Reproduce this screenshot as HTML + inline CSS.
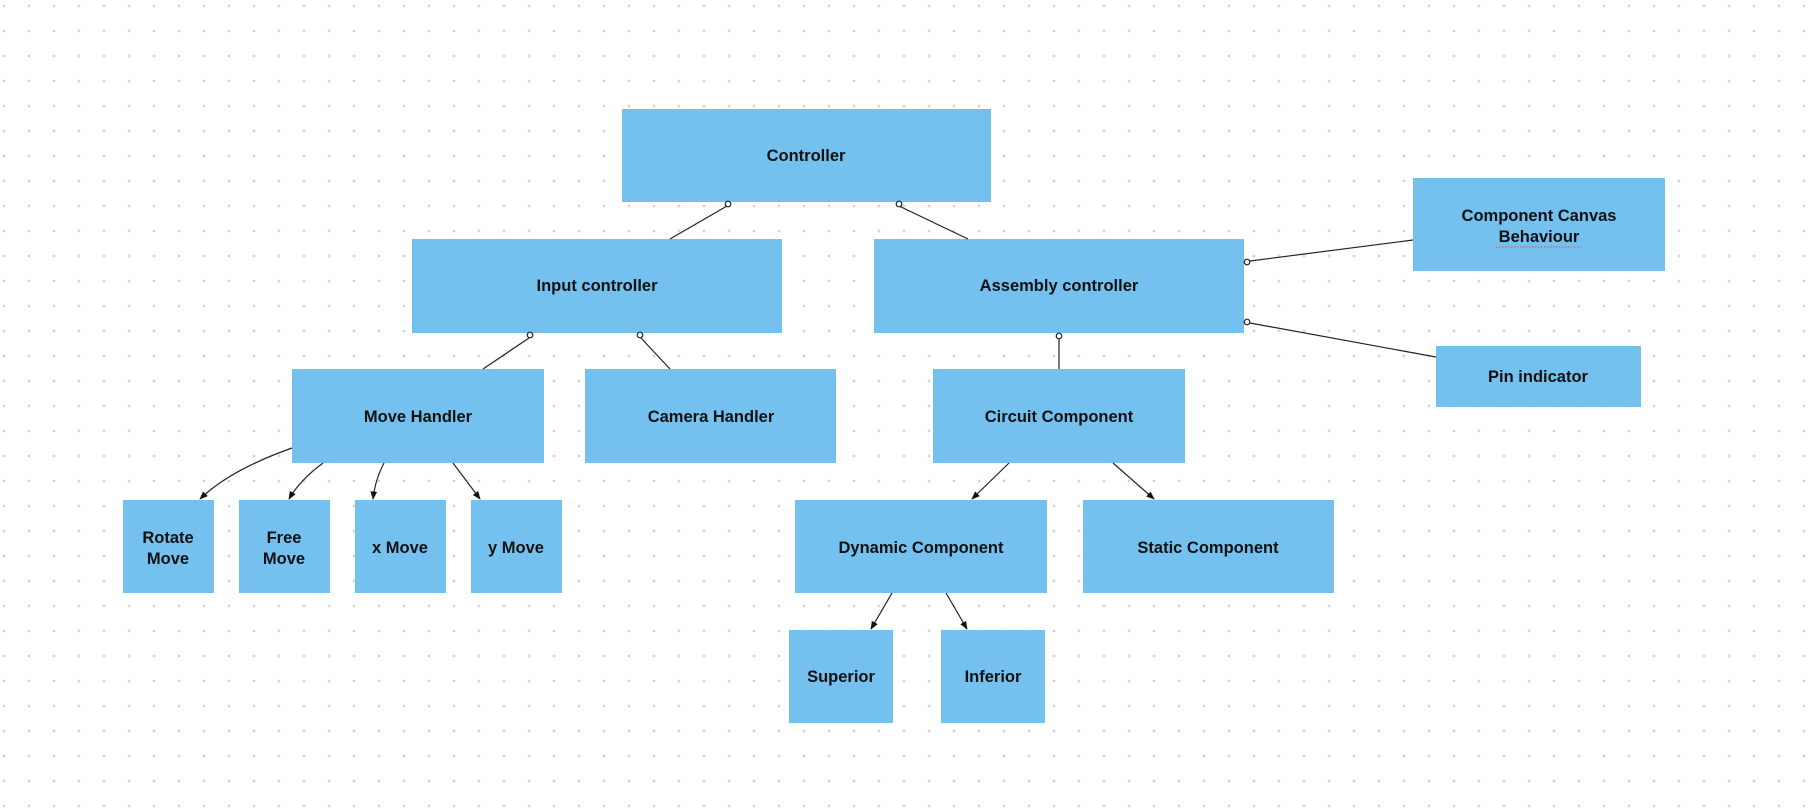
<!DOCTYPE html>
<html><head><meta charset="utf-8"><style>
html,body{margin:0;padding:0;background:#fff;}
svg{display:block}
text{font-family:"Liberation Sans",Arial,sans-serif;font-size:16.5px;font-weight:bold;fill:#111;text-anchor:middle;}
</style></head><body>
<svg width="1812" height="808" viewBox="0 0 1812 808" xmlns="http://www.w3.org/2000/svg">
<defs>
<pattern id="dots" x="0" y="0" width="25" height="25" patternUnits="userSpaceOnUse">
<circle cx="4" cy="6" r="1.4" fill="#d4d4d4"/>
</pattern>
<marker id="ar" viewBox="0 0 10 10" refX="9" refY="5" markerWidth="7" markerHeight="7" orient="auto-start-reverse">
<path d="M0,1 L10,5 L0,9 z" fill="#111"/>
</marker>
</defs>
<rect width="1812" height="808" fill="url(#dots)"/>
<g fill="#74c1ef">
<rect x="622" y="109" width="369" height="93"/>
<rect x="412" y="239" width="370" height="94"/>
<rect x="874" y="239" width="370" height="94"/>
<rect x="1413" y="178" width="252" height="93"/>
<rect x="1436" y="346" width="205" height="61"/>
<rect x="292" y="369" width="252" height="94"/>
<rect x="585" y="369" width="251" height="94"/>
<rect x="933" y="369" width="252" height="94"/>
<rect x="795" y="500" width="252" height="93"/>
<rect x="1083" y="500" width="251" height="93"/>
<rect x="123" y="500" width="91" height="93"/>
<rect x="239" y="500" width="91" height="93"/>
<rect x="355" y="500" width="91" height="93"/>
<rect x="471" y="500" width="91" height="93"/>
<rect x="789" y="630" width="104" height="93"/>
<rect x="941" y="630" width="104" height="93"/>
</g>
<g stroke="#222" stroke-width="1.2" fill="none">
<line x1="727" y1="206" x2="670" y2="239"/>
<line x1="899" y1="206" x2="968" y2="239"/>
<line x1="1250" y1="261" x2="1413" y2="240"/>
<line x1="1250" y1="323" x2="1436" y2="357"/>
<line x1="1059" y1="339" x2="1059" y2="369"/>
<line x1="529" y1="338" x2="483" y2="369"/>
<line x1="641" y1="338" x2="670" y2="369"/>
<path d="M292,448 Q230,470 200,499" marker-end="url(#ar)"/>
<path d="M323,463 Q300,480 289,499" marker-end="url(#ar)"/>
<path d="M384,463 Q375,480 373,499" marker-end="url(#ar)"/>
<path d="M453,463 L480,499" marker-end="url(#ar)"/>
<path d="M1009,463 L972,499" marker-end="url(#ar)"/>
<path d="M1113,463 L1154,499" marker-end="url(#ar)"/>
<path d="M892,593 L871,629" marker-end="url(#ar)"/>
<path d="M946,593 L967,629" marker-end="url(#ar)"/>
</g>
<g stroke="#222" stroke-width="1.2" fill="#fff">
<circle cx="728" cy="204" r="2.8"/>
<circle cx="899" cy="204" r="2.8"/>
<circle cx="1247" cy="262" r="2.8"/>
<circle cx="1247" cy="322" r="2.8"/>
<circle cx="1059" cy="336" r="2.8"/>
<circle cx="530" cy="335" r="2.8"/>
<circle cx="640" cy="335" r="2.8"/>
</g>
<text x="806" y="161">Controller</text>
<text x="597" y="291">Input controller</text>
<text x="1059" y="291">Assembly controller</text>
<text x="1539" y="221">Component Canvas</text>
<text x="1539" y="242">Behaviour</text>
<path d="M1496,247 L1581,247" stroke="#e05050" stroke-width="1" stroke-dasharray="1.5,1.5"/>
<text x="1538" y="382">Pin indicator</text>
<text x="418" y="422">Move Handler</text>
<text x="711" y="422">Camera Handler</text>
<text x="1059" y="422">Circuit Component</text>
<text x="921" y="553">Dynamic Component</text>
<text x="1208" y="553">Static Component</text>
<text x="168" y="543">Rotate</text>
<text x="168" y="564">Move</text>
<text x="284" y="543">Free</text>
<text x="284" y="564">Move</text>
<text x="400" y="553">x Move</text>
<text x="516" y="553">y Move</text>
<text x="841" y="682">Superior</text>
<text x="993" y="682">Inferior</text>
</svg>
</body></html>
